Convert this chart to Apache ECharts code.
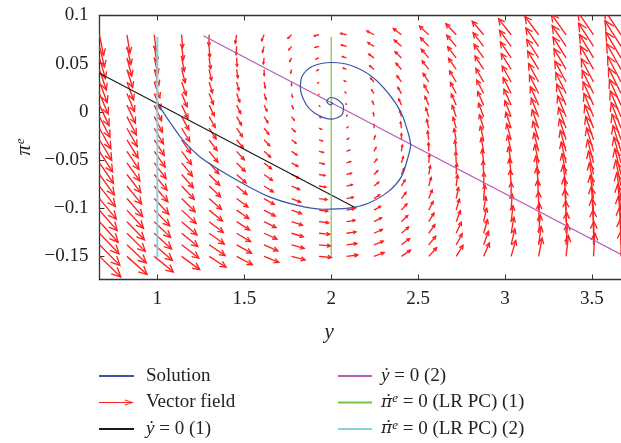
<!DOCTYPE html>
<html lang="en">
<head>
    <meta charset="UTF-8">
    <title>Phase diagram</title>
    <style>html, body { margin: 0; padding: 0; background: #fff; }</style>
</head>
<body>
<div id="main" style="width: 621px;height:443px;"></div>
<script src="https://cdn.jsdelivr.net/npm/echarts@6/dist/echarts.min.js"></script>

<script>
    // tick labels
    var xTicks = [1, 1.5, 2, 2.5, 3, 3.5];
    var yTicks = [-0.15, -0.1, -0.05, 0, 0.05, 0.1];

    // solution path [y, pi^e]
    var solution = [
        [1.005, 0.0075], [1.070, -0.0101], [1.146, -0.0291], [1.242, -0.0464],
        [1.356, -0.0602], [1.489, -0.0741], [1.641, -0.0880], [1.795, -0.0966],
        [1.947, -0.1011], [2.099, -0.1000], [2.214, -0.0948], [2.328, -0.0828],
        [2.404, -0.0672], [2.443, -0.0464], [2.457, -0.0343], [2.443, -0.0221],
        [2.404, -0.0014], [2.328, 0.0194], [2.233, 0.0367], [2.118, 0.0478],
        [2.004, 0.0512], [1.890, 0.0471], [1.832, 0.0367], [1.823, 0.0249],
        [1.852, 0.0090], [1.909, -0.0016], [2.004, -0.0076], [2.061, -0.0031],
        [2.071, 0.0055], [2.033, 0.0132], [1.995, 0.0149], [1.975, 0.0107],
        [1.995, 0.0073], [2.008, 0.0088], [2.002, 0.0104]
    ];

    // nullclines
    var yDot1 = [[0.667, 0.040], [2.145, -0.100]];
    var yDot2 = [[1.265, 0.079], [3.667, -0.148]];
    var piDot1 = [[2, 0.078], [2, -0.150]];
    var piDot2 = [[1, 0.078], [1, -0.151]];

    // vector field grid
    var fieldYs = [0.667, 0.825, 0.982, 1.140, 1.298, 1.456, 1.614, 1.772, 1.930, 2.088,
                   2.246, 2.404, 2.561, 2.719, 2.877, 3.035, 3.193, 3.351, 3.509, 3.667];
    var fieldPis = [0.080, 0.068, 0.056, 0.044, 0.031, 0.019, 0.007, -0.005, -0.017, -0.029,
                    -0.041, -0.053, -0.065, -0.077, -0.090, -0.102, -0.114, -0.126, -0.138, -0.150];
    var yStar = 2;      // LR Phillips curve
    var kY = 0.43;      // dy/dt per unit of pi^e below the y-dot nullcline
    var kPi = 0.016;    // dpi^e/dt per unit of y - yStar
</script>
<script>
    var serif = '"Liberation Serif", "DejaVu Serif", serif';

    // arrows from the model: y-dot pulls toward the nullcline (2), pi-dot follows y - y*
    var slope = (yDot2[1][1] - yDot2[0][1]) / (yDot2[1][0] - yDot2[0][0]);
    var field = [];
    fieldYs.forEach(function (y) {
        fieldPis.forEach(function (p) {
            var nul = yDot2[0][1] + slope * (y - yDot2[0][0]);
            field.push([y, p, kY * (nul - p), kPi * (y - yStar)]);
        });
    });

    function renderArrow(params, api) {
        var x = api.value(0), y = api.value(1);
        var p0 = api.coord([x, y]);
        var p1 = api.coord([x + api.value(2), y + api.value(3)]);
        var dx = p1[0] - p0[0], dy = p1[1] - p0[1];
        var len = Math.sqrt(dx * dx + dy * dy);
        var ang = Math.atan2(dy, dx);
        var h = len * 0.34, a = 0.45;
        var h1 = [p1[0] - h * Math.cos(ang - a), p1[1] - h * Math.sin(ang - a)];
        var h2 = [p1[0] - h * Math.cos(ang + a), p1[1] - h * Math.sin(ang + a)];
        var style = {stroke: '#ff2020', lineWidth: 1.35, fill: null};
        return {
            type: 'group',
            children: [
                {type: 'line', shape: {x1: p0[0], y1: p0[1], x2: p1[0], y2: p1[1]}, style: style},
                {type: 'polyline', shape: {points: [h1, p1, h2]}, style: style}
            ]
        };
    }

    var legendNames = {
        'ẏ = 0 (1)': '{i|ẏ} = 0 (1)',
        'ẏ = 0 (2)': '{i|ẏ} = 0 (2)',
        'π̇ᵉ = 0 (LR PC) (1)': '{p|π̇}{s|e} = 0 (LR PC) (1)',
        'π̇ᵉ = 0 (LR PC) (2)': '{p|π̇}{s|e} = 0 (LR PC) (2)'
    };
    function legendText(name) {
        return legendNames[name] || name;
    }
    var legendStyle = {
        fontFamily: serif, fontSize: 19, color: '#222', lineHeight: 20,
        rich: {
            i: {fontFamily: serif, fontSize: 19, lineHeight: 20, fontStyle: 'italic', color: '#222'},
            p: {fontFamily: '"DejaVu Serif"', fontSize: 17, lineHeight: 20, fontStyle: 'italic', color: '#222'},
            s: {fontFamily: serif, fontSize: 13, lineHeight: 13, fontStyle: 'italic', color: '#222', verticalAlign: 'top'}
        }
    };

    function lineSeries(name, data, color, width) {
        return {
            name: name, type: 'line', data: data, symbol: 'none',
            lineStyle: {color: color, width: width || 1.2},
            itemStyle: {color: color},
            silent: true, z: 3
        };
    }

    var xAxisBase = {
        type: 'value', min: 2 / 3, max: 3.667,
        axisLine: {show: true, onZero: false, lineStyle: {color: '#333', width: 1.3}},
        axisTick: {show: true, inside: true, length: 5, customValues: xTicks, lineStyle: {color: '#333'}},
        splitLine: {show: false}
    };

    var myChart = echarts.init(document.getElementById('main'));
    var option = {
        animation: false,
        grid: {left: 99.4, right: -3.7, top: 15.5, bottom: 163.5},
        xAxis: [
            Object.assign({}, xAxisBase, {
                name: 'y', nameLocation: 'middle', nameGap: 42,
                nameTextStyle: {fontFamily: serif, fontStyle: 'italic', fontSize: 21, color: '#222', padding: [0, 62, 0, 0]},
                axisLabel: {customValues: xTicks, margin: 10, fontFamily: serif, fontSize: 19, color: '#222'}
            }),
            Object.assign({}, xAxisBase, {position: 'top', axisLabel: {show: false}})
        ],
        yAxis: {
            type: 'value', min: -0.174, max: 0.1,
            name: 'πᵉ', nameLocation: 'middle', nameGap: 64, nameRotate: 90, nameMoveOverlap: false,
            nameTextStyle: {fontFamily: serif, fontStyle: 'italic', fontSize: 21, color: '#222', padding: [16, 0, 0, 0]},
            axisLine: {show: true, onZero: false, lineStyle: {color: '#333', width: 1.3}},
            axisTick: {show: true, inside: true, length: 5, customValues: yTicks, lineStyle: {color: '#333'}},
            axisLabel: {
                customValues: yTicks, margin: 11, fontFamily: serif, fontSize: 19, color: '#222',
                formatter: function (v) { return String(v).replace('-', '−'); }
            },
            splitLine: {show: false}
        },
        legend: [
            {
                orient: 'vertical', left: 98, top: 366, padding: 0, height: 80,
                itemWidth: 35, itemHeight: 6, itemGap: 6.5,
                itemStyle: {opacity: 0},
                textStyle: Object.assign({padding: [0, 0, 0, 7]}, legendStyle),
                formatter: legendText,
                data: [
                    'Solution',
                    {
                        name: 'Vector field', itemStyle: {opacity: 1},
                        icon: 'path://M0,2.4L31.5,2.4L25.6,0.9L26.1,0L35,3L26.1,6L25.6,5.1L31.5,3.6L0,3.6Z'
                    },
                    'ẏ = 0 (1)'
                ]
            },
            {
                orient: 'vertical', left: 337, top: 366, padding: 0, height: 80,
                itemWidth: 34, itemHeight: 6, itemGap: 6.5,
                itemStyle: {opacity: 0},
                textStyle: Object.assign({padding: [0, 0, 0, 4]}, legendStyle),
                formatter: legendText,
                data: ['ẏ = 0 (2)', 'π̇ᵉ = 0 (LR PC) (1)', 'π̇ᵉ = 0 (LR PC) (2)']
            }
        ],
        series: [
            {
                name: 'Vector field', type: 'custom', renderItem: renderArrow,
                data: field, encode: {x: 0, y: 1}, clip: true, silent: true,
                itemStyle: {color: '#ff2020'}, z: 2
            },
            lineSeries('ẏ = 0 (1)', yDot1, '#1a1a1a'),
            lineSeries('ẏ = 0 (2)', yDot2, '#b55fb4'),
            lineSeries('π̇ᵉ = 0 (LR PC) (1)', piDot1, '#77c444'),
            lineSeries('π̇ᵉ = 0 (LR PC) (2)', piDot2, '#88d3dd', 2),
            Object.assign(lineSeries('Solution', solution, '#3655a5'), {smooth: 0.3, z: 4})
        ]
    };
    myChart.setOption(option);
</script>
</body>
</html>
